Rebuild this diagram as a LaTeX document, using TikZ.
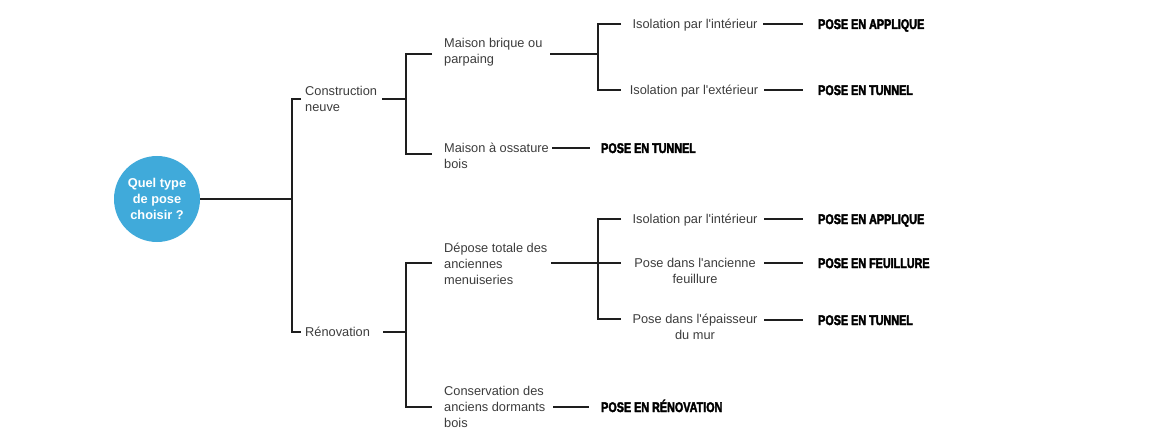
\documentclass[tikz,border=0pt]{standalone}
\usepackage{fontspec}
\setmainfont{Liberation Sans}
\newfontfamily\posefont{Liberation Sans}[FakeStretch=0.77,FakeBold=2.6]
\definecolor{rootblue}{RGB}{64,170,218}
\definecolor{txtgray}{RGB}{60,60,60}
\definecolor{linegray}{RGB}{30,30,30}
\newcommand{\aq}{\textquotesingle}
\begin{document}
\begin{tikzpicture}[x=1pt,y=-1pt,
  conn/.style={draw=linegray,line width=1.2pt},
  lbl/.style={font=\fontsize{12.8}{16}\selectfont,text=txtgray,inner sep=0pt,align=left,anchor=west},
  onel/.style={lbl,text height=9.2pt,text depth=0pt},
  opt/.style={font=\fontsize{12.8}{16}\selectfont,text=txtgray,inner sep=0pt,align=center,anchor=center},
  oneopt/.style={opt,text height=9.2pt,text depth=0pt},
  res/.style={font=\posefont\bfseries\fontsize{14}{16}\selectfont,text=black,inner sep=0pt,anchor=west,text height=10pt,text depth=0pt},
  rootnode/.style={circle,fill=rootblue,minimum size=86pt,inner sep=0pt,text=white,align=center,font=\bfseries\fontsize{12.8}{16}\selectfont}]
\useasboundingbox (0,0) rectangle (1170,441);

% root
\node[rootnode] (root) at (157,199) {Quel type\\de pose\\choisir ?};

% level 1
\coordinate (A) at (292,99);
\coordinate (B) at (292,332);
\coordinate (At) at (301,99);
\coordinate (Bt) at (301,332);
\draw[conn] (root.east) -- (root.east -| A);
\draw[conn] (At) -- (A) -- (B) -- (Bt);
\node[lbl] (constr) at (305,99) {Construction\\neuve};
\node[onel] (renov) at (305,332) {Rénovation};

% level 2 upper
\coordinate (C1) at (406,54);
\coordinate (C2) at (406,154);
\coordinate (C1t) at (432,54);
\coordinate (C2t) at (432,154);
\coordinate (Cin) at (382,99);
\draw[conn] (Cin) -- (Cin -| C1);
\draw[conn] (C1t) -- (C1) -- (C2) -- (C2t);
\node[lbl] (brique) at (444,52) {Maison brique ou\\parpaing};
\node[lbl] (ossature) at (444,155.5) {Maison à ossature\\bois};

% level 2 lower
\coordinate (D1) at (406,263);
\coordinate (D2) at (406,407);
\coordinate (D1t) at (432,263);
\coordinate (D2t) at (432,407);
\coordinate (Din) at (383,332);
\draw[conn] (Din) -- (Din -| D1);
\draw[conn] (D1t) -- (D1) -- (D2) -- (D2t);
\node[lbl] (depose) at (444,264) {Dépose totale des\\anciennes\\menuiseries};
\node[lbl] (conserv) at (444,407) {Conservation des\\anciens dormants\\bois};

% level 3 upper
\coordinate (E0) at (550,54);
\coordinate (E1) at (598,24);
\coordinate (E2) at (598,90);
\coordinate (E1t) at (621,24);
\coordinate (E2t) at (621,90);
\draw[conn] (E0) -- (E0 -| E1);
\draw[conn] (E1t) -- (E1) -- (E2) -- (E2t);
\node[oneopt] (isoA) at (695,24) {Isolation par l\aq intérieur};
\node[oneopt] (isoB) at (694,90) {Isolation par l\aq extérieur};

% level 3 lower
\coordinate (F0) at (551,263);
\coordinate (F1) at (598,219);
\coordinate (F2) at (598,319);
\coordinate (F1t) at (621,219);
\coordinate (F2t) at (621,319);
\coordinate (Fmt) at (621,263);
\draw[conn] (F0) -- (Fmt);
\draw[conn] (F1t) -- (F1) -- (F2) -- (F2t);
\node[oneopt] (isoC) at (695,219) {Isolation par l\aq intérieur};
\node[opt] (ancienne) at (695,271) {Pose dans l\aq ancienne\\feuillure};
\node[opt] (epais) at (695,327) {Pose dans l\aq épaisseur\\du mur};

% results
\node[res] (r1) at (818,24) {POSE EN APPLIQUE};
\node[res] (r2) at (818,90) {POSE EN TUNNEL};
\node[res] (r3) at (818,219) {POSE EN APPLIQUE};
\node[res] (r4) at (818,263) {POSE EN FEUILLURE};
\node[res] (r5) at (818,320) {POSE EN TUNNEL};
\node[res] (r6) at (601,148) {POSE EN TUNNEL};
\node[res] (r7) at (601,407) {POSE EN RÉNOVATION};

\coordinate (G1) at (763,24);
\coordinate (G2) at (764,90);
\coordinate (G3) at (764,219);
\coordinate (G4) at (764,263);
\coordinate (G5) at (764,320);
\coordinate (H1) at (552,148);
\coordinate (H2) at (553,407);
\draw[conn] (G1) -- ([xshift=-15pt]r1.west);
\draw[conn] (G2) -- ([xshift=-15pt]r2.west);
\draw[conn] (G3) -- ([xshift=-15pt]r3.west);
\draw[conn] (G4) -- ([xshift=-15pt]r4.west);
\draw[conn] (G5) -- ([xshift=-15pt]r5.west);
\draw[conn] (H1) -- ([xshift=-11pt]r6.west);
\draw[conn] (H2) -- ([xshift=-12pt]r7.west);
\end{tikzpicture}
\end{document}
